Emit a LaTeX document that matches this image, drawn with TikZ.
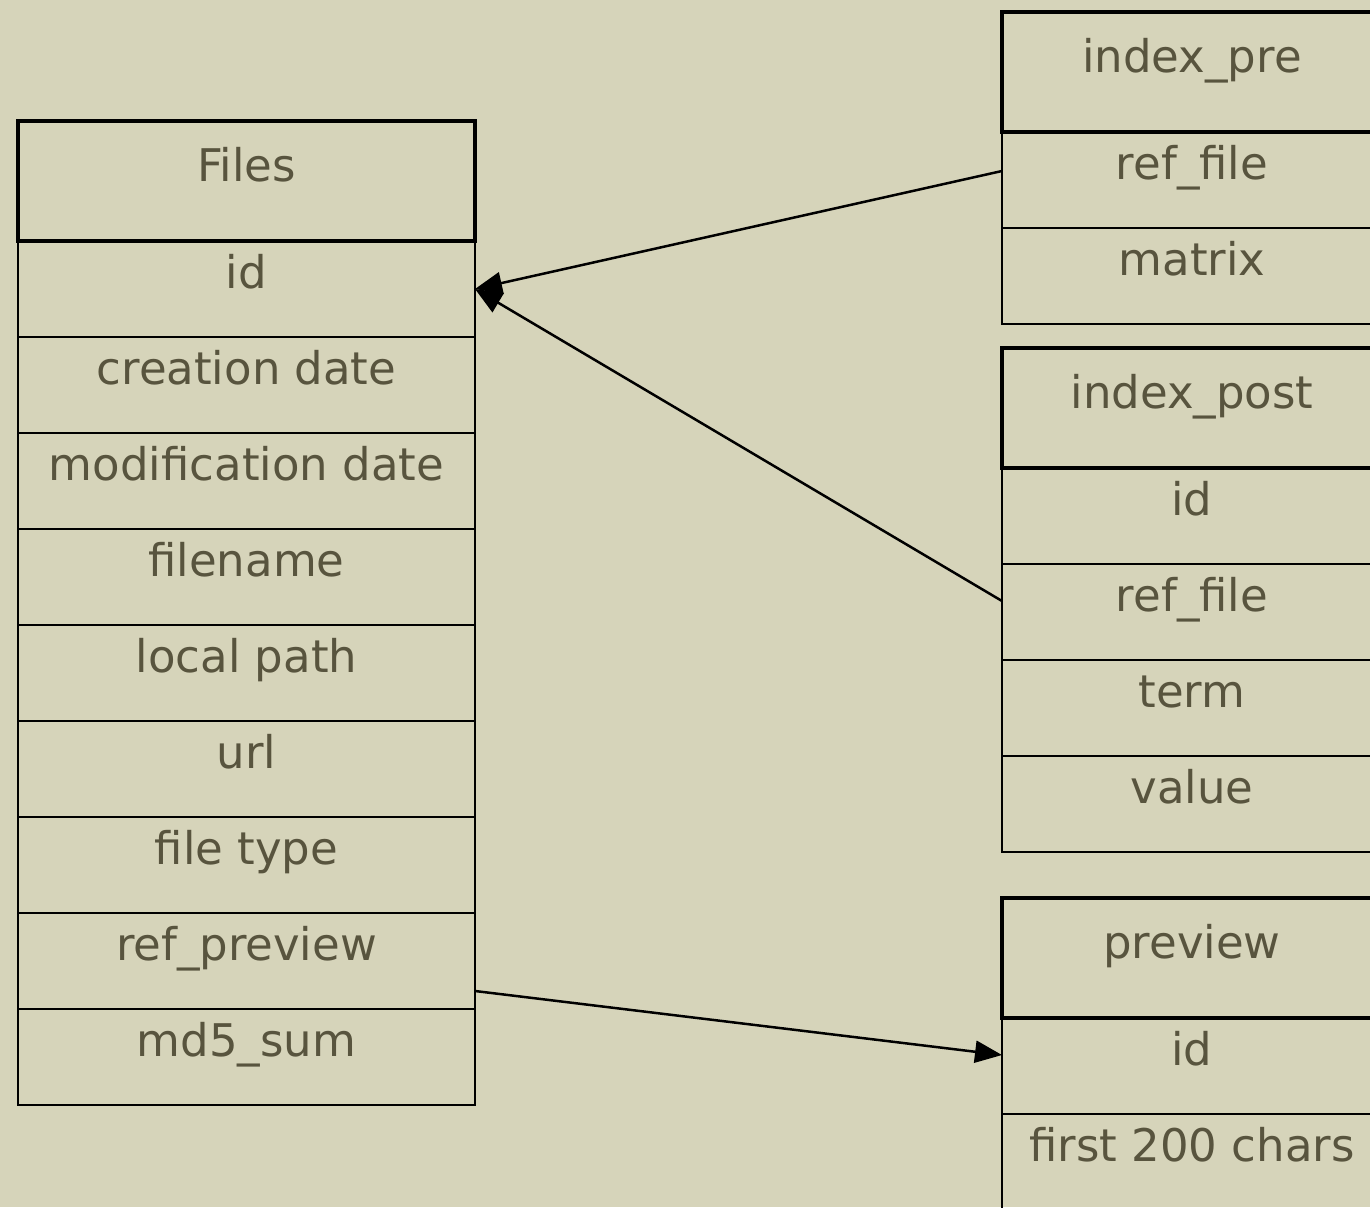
\documentclass[tikz,border=0pt]{standalone}
\usepackage{fontspec}
\setmainfont{DejaVu Sans}
\usetikzlibrary{positioning,arrows.meta}
\definecolor{paper}{RGB}{214,212,186}
\definecolor{ink}{RGB}{88,84,62}
\begin{document}
\begin{tikzpicture}[x=1pt,y=-1pt,>={Triangle[length=27pt,width=22pt]},
	every node/.style={inner sep=0pt,outer sep=0pt,text=ink,font=\fontsize{45}{54}\selectfont},
	head/.style={draw,line width=4.8pt,text height=60pt,text depth=60pt},
	field/.style={draw,line width=2.5pt,text height=47pt,text depth=49pt},
	wide/.style={minimum width=457pt},narrow/.style={minimum width=380pt}]
	\path[use as bounding box,fill=paper] (0,0) rectangle (1370,1207);
	% table Files
	\node[head,wide,anchor=north west] (files) at (18,121) {Files};
	\node[field,wide,below=0pt of files] (fid) {id};
	\node[field,wide,below=0pt of fid] (fcreate) {creation date};
	\node[field,wide,below=0pt of fcreate] (fmodif) {modification date};
	\node[field,wide,below=0pt of fmodif] (fname) {filename};
	\node[field,wide,below=0pt of fname] (fpath) {local path};
	\node[field,wide,below=0pt of fpath] (furl) {url};
	\node[field,wide,below=0pt of furl] (ftype) {file type};
	\node[field,wide,below=0pt of ftype] (fpreview) {ref\_preview};
	\node[field,wide,below=0pt of fpreview] (fmd5) {md5\_sum};
	% table index_pre
	\node[head,narrow,anchor=north west] (pre) at (1002,12) {index\_pre};
	\node[field,narrow,below=0pt of pre] (preref) {ref\_file};
	\node[field,narrow,below=0pt of preref] (prematrix) {matrix};
	% table index_post
	\node[head,narrow,anchor=north west] (post) at (1002,348) {index\_post};
	\node[field,narrow,below=0pt of post] (postid) {id};
	\node[field,narrow,below=0pt of postid] (postref) {ref\_file};
	\node[field,narrow,below=0pt of postref] (postterm) {term};
	\node[field,narrow,below=0pt of postterm] (postvalue) {value};
	% table preview
	\node[head,narrow,anchor=north west] (prev) at (1002,898) {preview};
	\node[field,narrow,below=0pt of prev] (previd) {id};
	\node[field,narrow,below=0pt of previd] (prevtext) {first 200 chars};
	% references
	\draw[->,line width=2.5pt] ([yshift=9pt]preref.west) -- (fid.east);
	\draw[->,line width=2.5pt] ([yshift=11pt]postref.west) -- (fid.east);
	\draw[->,line width=2.5pt] ([yshift=-30pt]fpreview.east) -- ([yshift=11pt]previd.west);
\end{tikzpicture}
\end{document}
